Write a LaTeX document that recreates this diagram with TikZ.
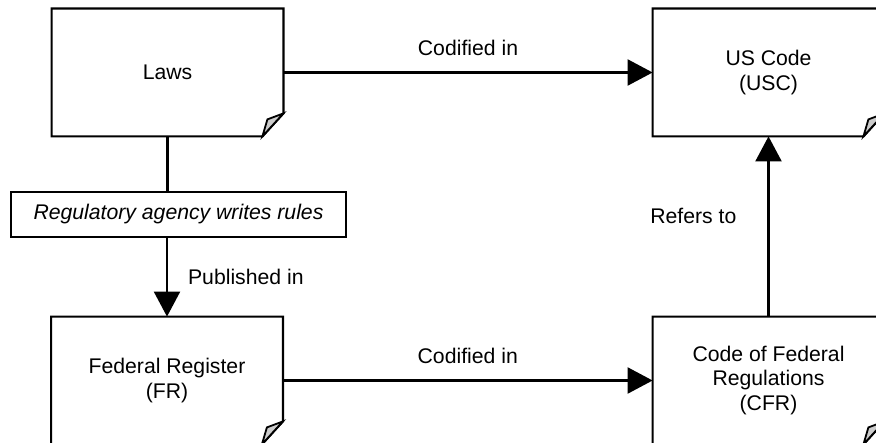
\documentclass[tikz,border=0pt]{standalone}
\usepackage{fontspec}
\setmainfont{Liberation Sans}
\usetikzlibrary{
    arrows.meta,
    positioning,
    calc
}

% outline of a sheet with a turned-up corner
\newcommand{\dogear}[1]{%
    \draw[edge] (#1.north west) -- (#1.north east)
        -- ([yshift=11.5pt]#1.south east) -- ([xshift=-10.5pt]#1.south east)
        -- (#1.south west) -- cycle;
    \filldraw[flap] ([xshift=-10.5pt]#1.south east) -- ++(2.5pt,8.5pt)
        -- ([yshift=11.5pt]#1.south east) -- cycle;}

\begin{document}
\begin{tikzpicture}[
        x=0.5pt, y=-0.5pt,
        font=\fontsize{10.6}{12.2}\selectfont,
        doc/.style={
            minimum width=115.5pt,
            minimum height=63.5pt,
            align=center,
            inner sep=0pt
        },
        rulebox/.style={
            draw,
            line width=1pt,
            minimum width=167.5pt,
            minimum height=22.5pt,
            font=\fontsize{10.6}{12.2}\selectfont\itshape
        },
        edge/.style={line width=1.1pt},
        flap/.style={line width=0.9pt, fill=black!20},
        line/.style={
            -{Triangle[length=12.5pt,width=13pt]},
            line width=1.1pt
        },
        lbl/.style={inner sep=0pt}
    ]

    \clip (0,0) rectangle (876,443);

    \node[doc] (laws) at (167.5,72.5) {Laws};
    \node[doc] (usc) at (768.5,72.5) {US Code\\(USC)};
    \node[doc] (fr) at (167,380.5) {Federal Register\\(FR)};
    \node[doc] (cfr) at (768.5,380.5) {Code of Federal\\Regulations\\(CFR)};
    \node[rulebox] (rules) at (178.5,214.5) {Regulatory agency writes rules};

    \dogear{laws}
    \dogear{usc}
    \dogear{fr}
    \dogear{cfr}

    \draw[line] (laws) -- node[lbl, above=8pt] {Codified in} (usc);
    \draw[line] (fr) -- node[lbl, above=8pt] {Codified in} (cfr);
    \draw[edge] (laws) -- (laws |- rules.north);
    \draw[line] (rules.south -| fr) -- node[lbl, right=10pt] {Published in} (fr);
    \draw[line] (cfr) -- node[lbl, left=15.5pt, pos=0.56] {Refers to} (usc);

\end{tikzpicture}
\end{document}
